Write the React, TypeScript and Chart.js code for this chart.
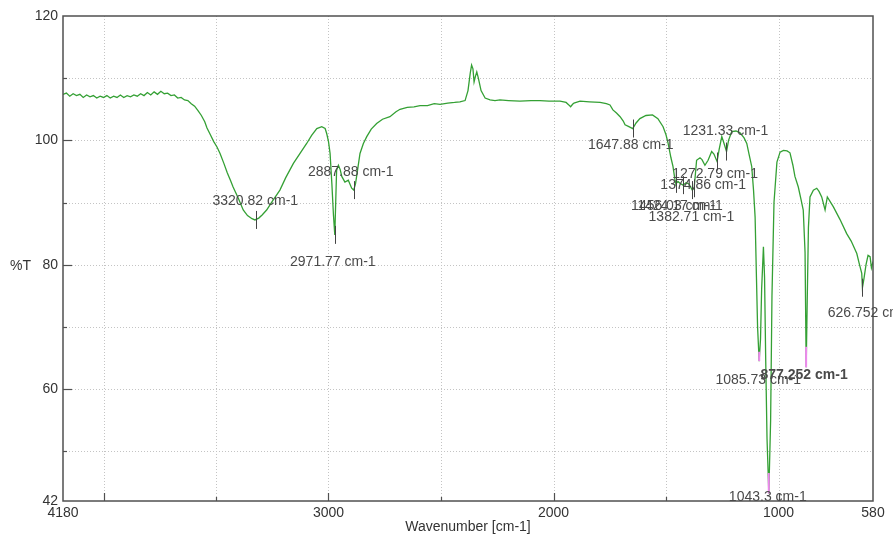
import React, { useEffect, useRef } from "react";
import { Chart, registerables } from "chart.js";

Chart.register(...registerables);

// ---- spectrum data (wavenumber cm-1, %T) ----
const wavenumbers = [
  4180, 4165, 4150, 4135, 4120, 4105, 4090, 4075, 4060, 4045, 4030, 4015, 4000, 3985, 3970, 3955,
  3940, 3925, 3910, 3895, 3880, 3865, 3850, 3835, 3820, 3805, 3790, 3775, 3760, 3745, 3730, 3715,
  3700, 3685, 3670, 3655, 3640, 3625, 3610, 3595, 3580, 3565, 3550, 3540, 3525, 3510, 3495, 3482,
  3465, 3450, 3435, 3424, 3400, 3379, 3360, 3340, 3327, 3310, 3295, 3275, 3250, 3216, 3190, 3156,
  3125, 3097, 3075, 3052, 3030, 3015, 3008, 3000, 2993, 2985, 2978, 2972, 2968, 2964, 2956, 2948,
  2941, 2927, 2912, 2897, 2888, 2880, 2875, 2860, 2845, 2830, 2810, 2786, 2760, 2727, 2700, 2682,
  2650, 2620, 2593, 2560, 2530, 2504, 2470, 2440, 2416, 2393, 2380, 2370, 2364, 2358, 2353, 2347,
  2341, 2334, 2322, 2304, 2282, 2260, 2238, 2200, 2149, 2100, 2060, 2020, 1971, 1944, 1932, 1924,
  1915, 1909, 1882, 1840, 1793, 1765, 1749, 1736, 1720, 1704, 1690, 1682, 1665, 1648, 1633, 1616,
  1589, 1560, 1536, 1513, 1500, 1491, 1478, 1469, 1460, 1456, 1447, 1438, 1424, 1411, 1398, 1383,
  1375, 1364, 1349, 1340, 1327, 1313, 1297, 1287, 1273, 1264, 1252, 1242, 1231, 1222, 1208, 1189,
  1171, 1153, 1141, 1131, 1119, 1111, 1104, 1098, 1093, 1086, 1080, 1075, 1067, 1062, 1057, 1051,
  1043, 1035, 1029, 1020, 1007, 993, 978, 962, 949, 936, 927, 912, 900, 890, 882, 877,
  872, 867, 860, 845, 830, 820, 808, 793, 783, 771, 756, 727, 697, 677, 652, 642,
  630, 627, 620, 611, 602, 593, 587, 580,
];
const transmittance = [
  107.4, 107.6, 107.1, 107.5, 107.2, 107.4, 106.9, 107.3, 107.0, 107.2, 106.8, 107.1, 106.9, 107.2, 106.8, 107.1,
  106.9, 107.3, 106.9, 107.2, 107.0, 107.3, 107.1, 107.5, 107.2, 107.7, 107.3, 107.8, 107.4, 107.9, 107.5, 107.6,
  107.2, 107.3, 106.8, 106.9, 106.5, 106.4, 105.9, 105.5, 104.8, 104.0, 103.0, 102.0, 100.9, 99.8, 98.9, 97.9,
  96.3, 94.8, 93.5, 92.5, 90.6, 88.8, 87.9, 87.4, 87.2, 87.5, 88.0, 88.8, 90.2, 92.0, 94.0, 96.3,
  98.0, 99.5, 100.8, 101.9, 102.2, 101.9, 101.1, 99.8, 97.9, 93.0, 88.0, 84.8, 90.0, 95.2, 96.0, 95.3,
  94.2, 93.3, 93.6, 92.3, 92.0, 93.0, 94.2, 97.9, 99.5, 100.6, 101.8, 102.7, 103.4, 103.8, 104.6, 105.0,
  105.3, 105.4, 105.6, 105.6, 105.9, 105.8, 106.0, 106.1, 106.2, 106.4, 108.0, 110.8, 112.1, 111.5, 109.4, 110.3,
  111.0, 110.0, 108.0, 106.8, 106.5, 106.4, 106.5, 106.4, 106.3, 106.4, 106.4, 106.3, 106.3, 106.1, 105.7, 105.4,
  105.8, 106.0, 106.3, 106.2, 106.1, 105.9, 105.7, 104.9, 104.4, 103.8, 103.1, 102.5, 102.2, 101.9, 102.8, 103.5,
  104.0, 104.1, 103.5, 102.2, 100.9, 99.6, 97.2, 95.8, 93.6, 93.0, 93.4, 93.1, 92.8, 93.2, 93.0, 92.0,
  92.3, 96.8, 97.2, 96.9, 96.0, 96.8, 98.2, 97.8, 96.6, 98.5, 100.6, 99.5, 98.2, 100.0, 101.4, 101.5,
  101.2, 100.4, 99.5, 97.8, 95.8, 92.0, 87.7, 78.0, 70.0, 64.5, 68.0, 76.0, 82.9, 78.0, 65.0, 52.0,
  43.2, 55.0, 75.0, 90.0, 96.5, 98.1, 98.4, 98.3, 98.0, 96.0, 94.2, 92.5, 90.5, 88.8, 82.0, 63.5,
  75.0, 86.0, 90.9, 92.0, 92.3, 91.8, 90.9, 88.8, 90.9, 90.2, 89.3, 87.3, 85.0, 83.8, 81.8, 80.3,
  78.6, 76.3, 77.8, 80.0, 81.5, 81.3, 79.5, 80.5,
];

// ---- axis values ----
const xGridValues = [4180, 4000, 3500, 3000, 2500, 2000, 1500, 1000, 580];
const xLabelValues = [4180, 3000, 2000, 1000, 580];
const xMajorTicks = [4000, 3000, 2000, 1000];
const yGridValues = [120, 110, 100, 90, 80, 70, 60, 50, 42];
const yLabelValues = [120, 100, 80, 60, 42];

// ---- peak annotations ----
const peakWavenumbers = [3320.82, 2971.77, 2887.88, 1647.88, 1231.33, 1272.79, 1374.86, 1456.03, 1424.17, 1382.71, 1085.73, 877.252, 1043.3, 626.752];
const peakValues = [87.2, 84.8, 92.0, 101.9, 98.2, 96.6, 92.3, 93.0, 92.8, 92.0, 64.5, 63.5, 43.2, 76.3];
const peakLabels = ["3320.82 cm-1", "2971.77 cm-1", "2887.88 cm-1", "1647.88 cm-1", "1231.33 cm-1", "1272.79 cm-1", "1374.86 cm-1", "1456.03 cm-1", "1424.17 cm-1", "1382.71 cm-1", "1085.73 cm-1", "877.252 cm-1", "1043.3 cm-1", "626.752 cm-1"];
const pinkTopValues = [null, null, null, null, null, null, null, null, null, null, 66.0, 66.8, 46.5, null];

// label placement (pixel offsets from peak point), style only
const labelOffsets: [number, number][] = [
  [-1, -19], [-2, 27], [-3, -18], [-2, 17], [-1, -20], [-2, 13], [9, -3], [-2, 22], [-3, 21], [-1, 27],
  [-1, 19], [-2, 8], [-1, 4], [8, 25],
];
const boldLabel = [false, false, false, false, false, false, false, false, false, false, false, true, false, false];
const showTick = [true, true, true, true, true, true, true, true, true, true, false, false, false, true];

const FONT = '"Liberation Sans", Arial, sans-serif';

const framePlugin = {
  id: "frame",
  beforeDatasetsDraw(chart: any) {
    const { ctx, chartArea: a, scales } = chart;
    const x = scales.x, y = scales.y;
    ctx.save();
    ctx.strokeStyle = "#c4c4c4";
    ctx.lineWidth = 1;
    ctx.setLineDash([1, 2]);
    xGridValues.forEach((v) => {
      if (v === 4180 || v === 580) return;
      const px = Math.round(x.getPixelForValue(v)) + 0.5;
      ctx.beginPath();
      ctx.moveTo(px, a.top);
      ctx.lineTo(px, a.bottom);
      ctx.stroke();
    });
    yGridValues.forEach((v) => {
      if (v === 120 || v === 42) return;
      const py = Math.round(y.getPixelForValue(v)) + 0.5;
      ctx.beginPath();
      ctx.moveTo(a.left, py);
      ctx.lineTo(a.right, py);
      ctx.stroke();
    });
    ctx.restore();
  },
  afterDatasetsDraw(chart: any) {
    const { ctx, chartArea: a, scales } = chart;
    const x = scales.x, y = scales.y;
    ctx.save();
    // pink highlighted minima
    ctx.strokeStyle = "#ee88ee";
    ctx.lineWidth = 2;
    peakWavenumbers.forEach((w, i) => {
      const top = pinkTopValues[i];
      if (top == null) return;
      const px = x.getPixelForValue(w);
      ctx.beginPath();
      ctx.moveTo(px, y.getPixelForValue(top));
      ctx.lineTo(px, y.getPixelForValue(peakValues[i]));
      ctx.stroke();
    });
    // frame
    ctx.strokeStyle = "#505050";
    ctx.lineWidth = 1.5;
    ctx.strokeRect(a.left, a.top, a.right - a.left, a.bottom - a.top);
    // inward ticks
    ctx.lineWidth = 1.2;
    xGridValues.forEach((v) => {
      if (v === 4180 || v === 580) return;
      const px = Math.round(x.getPixelForValue(v)) + 0.5;
      const len = xMajorTicks.includes(v) ? 8 : 4;
      ctx.beginPath();
      ctx.moveTo(px, a.bottom);
      ctx.lineTo(px, a.bottom - len);
      ctx.stroke();
    });
    yGridValues.forEach((v) => {
      if (v === 120 || v === 42) return;
      const py = Math.round(y.getPixelForValue(v)) + 0.5;
      const len = yLabelValues.includes(v) ? 9 : 4;
      ctx.beginPath();
      ctx.moveTo(a.left, py);
      ctx.lineTo(a.left + len, py);
      ctx.stroke();
    });
    // peak annotations
    ctx.strokeStyle = "#444";
    ctx.lineWidth = 1;
    ctx.fillStyle = "#4a4a4a";
    ctx.textAlign = "center";
    ctx.textBaseline = "middle";
    peakWavenumbers.forEach((w, i) => {
      const px = x.getPixelForValue(w);
      const py = y.getPixelForValue(peakValues[i]);
      if (showTick[i]) {
        ctx.beginPath();
        ctx.moveTo(Math.round(px) + 0.5, py - 9);
        ctx.lineTo(Math.round(px) + 0.5, py + 9);
        ctx.stroke();
      }
      ctx.font = (boldLabel[i] ? "bold " : "") + "14px " + FONT;
      const [dx, dy] = labelOffsets[i];
      ctx.fillText(peakLabels[i], px + dx, py + dy);
    });
    // axis titles
    ctx.fillStyle = "#333";
    ctx.font = "14px " + FONT;
    ctx.fillText("Wavenumber [cm-1]", (a.left + a.right) / 2, a.bottom + 26);
    ctx.textAlign = "left";
    ctx.fillText("%T", 10, 266);
    ctx.restore();
  },
};

export default function App() {
  const ref = useRef<HTMLCanvasElement | null>(null);
  useEffect(() => {
    if (!ref.current) return;
    const points = wavenumbers.map((w, i) => ({ x: w, y: transmittance[i] }));
    const chart = new Chart(ref.current, {
      type: "line",
      data: {
        datasets: [
          {
            data: points,
            borderColor: "#34a034",
            borderWidth: 1.3,
            pointRadius: 0,
            tension: 0,
            fill: false,
          },
        ],
      },
      options: {
        animation: false,
        responsive: false,
        maintainAspectRatio: false,
        layout: { padding: { top: 16, right: 20, left: 0, bottom: 0 } },
        plugins: { legend: { display: false }, tooltip: { enabled: false } },
        scales: {
          x: {
            type: "linear",
            reverse: true,
            min: 580,
            max: 4180,
            afterBuildTicks: (s: any) => {
              s.ticks = xGridValues.map((v) => ({ value: v }));
            },
            afterFit: (s: any) => {
              s.height = 34;
            },
            grid: { display: false, drawTicks: false },
            border: { display: false },
            ticks: {
              autoSkip: false,
              maxRotation: 0,
              padding: 4,
              color: "#333",
              font: { family: FONT, size: 14 },
              callback: (v: any) => (xLabelValues.includes(Number(v)) ? String(v) : ""),
            },
          },
          y: {
            type: "linear",
            min: 42,
            max: 120,
            afterBuildTicks: (s: any) => {
              s.ticks = yGridValues.map((v) => ({ value: v }));
            },
            afterFit: (s: any) => {
              s.width = 63;
            },
            grid: { display: false, drawTicks: false },
            border: { display: false },
            ticks: {
              autoSkip: false,
              padding: 5,
              color: "#333",
              font: { family: FONT, size: 14 },
              callback: (v: any) => (yLabelValues.includes(Number(v)) ? String(v) : ""),
            },
          },
        },
      },
      plugins: [framePlugin],
    });
    return () => chart.destroy();
  }, []);
  return (
    <div style={{ position: "absolute", left: 0, top: 0, width: 893, height: 535, background: "#fff" }}>
      <canvas ref={ref} width={893} height={535} style={{ width: 893, height: 535 }} />
    </div>
  );
}
